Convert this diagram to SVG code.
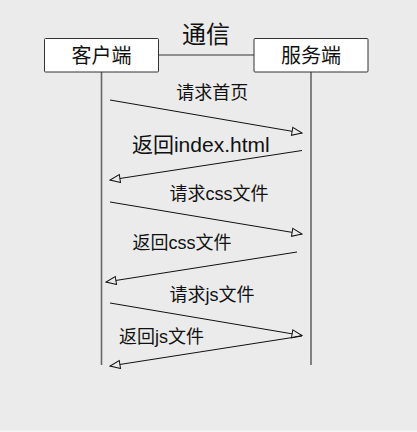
<svg xmlns="http://www.w3.org/2000/svg" width="417" height="432" viewBox="0 0 417 432">
<style>
text{font-family:"Liberation Sans","Noto Sans CJK SC",sans-serif;fill:#111;text-anchor:middle}
.box{fill:#fff;stroke:#333;stroke-width:1}
.life{stroke:#666;stroke-width:1.6;fill:none}
.msg{stroke:#111;stroke-width:1;fill:none;marker-end:url(#arr)}
.lbl{font-size:18px}
</style>
<defs>
<marker id="arr" markerUnits="userSpaceOnUse" markerWidth="12" markerHeight="10" refX="10" refY="4" orient="auto" viewBox="-1 -1 12 10">
<path d="M0,0 L10,4 L0,8 Z" fill="#ebebeb" stroke="#111" stroke-width="1"/>
</marker>
</defs>
<rect x="0" y="0" width="417" height="432" fill="#ebebeb"/>
<rect x="0" y="430.5" width="417" height="1.5" fill="#f6f6f6"/>
<text x="206" y="42.5" style="font-size:24px">通信</text>
<g id="connectors">
<line x1="158" y1="55" x2="254" y2="55" stroke="#333" stroke-width="1"/>
<line class="life" x1="101.5" y1="72" x2="101.5" y2="365"/>
<line class="life" x1="311" y1="72" x2="311" y2="365"/>
<line class="msg" x1="110" y1="100" x2="302" y2="133"/>
<line class="msg" x1="302" y1="150.5" x2="110" y2="180"/>
<line class="msg" x1="110" y1="202" x2="302" y2="234"/>
<line class="msg" x1="297" y1="252" x2="106" y2="282"/>
<line class="msg" x1="110" y1="303" x2="302" y2="335.5"/>
<line class="msg" x1="302" y1="336" x2="110" y2="366"/>
<text class="lbl" x="212.3" y="99">请求首页</text>
<text x="200.8" y="152" style="font-size:21px">返回index.html</text>
<text class="lbl" x="219" y="199.6">请求css文件</text>
<text class="lbl" x="182" y="249.3">返回css文件</text>
<text class="lbl" x="212" y="301.3">请求js文件</text>
<text class="lbl" x="161.5" y="343">返回js文件</text>
</g>
<g id="client">
<rect class="box" x="44.5" y="38.5" width="114" height="33.5" rx="1"/>
<text x="101.5" y="62.8" style="font-size:20px">客户端</text>
</g>
<g id="server">
<rect class="box" x="254" y="38.5" width="114" height="33.5" rx="1"/>
<text x="311" y="62.8" style="font-size:20px">服务端</text>
</g>
</svg>
